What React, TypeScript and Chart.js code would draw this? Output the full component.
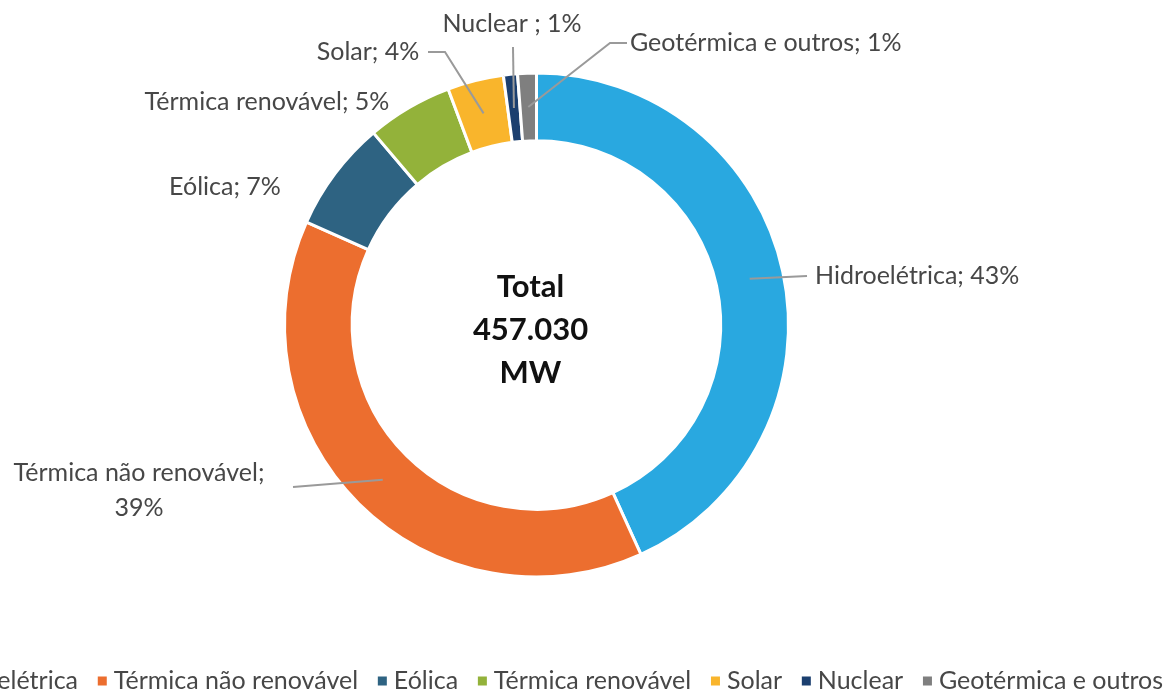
import React, { useEffect, useRef } from "react";
import { Chart, registerables } from "chart.js";

Chart.register(...registerables);

// ---------- data ----------
const categories = [
  "Hidroelétrica",
  "Térmica não renovável",
  "Eólica",
  "Térmica renovável",
  "Solar",
  "Nuclear",
  "Geotérmica e outros",
];
const shares = [43.2, 38.5, 7.1, 5.5, 3.6, 0.9, 1.2];
const percentLabels = ["43%", "39%", "7%", "5%", "4%", "1%", "1%"];
const labelSeparators = ["; ", ";\n", "; ", "; ", "; ", " ; ", "; "];
const totalLines = ["Total", "457.030", "MW"];

// ---------- styles ----------
const colors = ["#29A8E0", "#EC6E2F", "#2E6382", "#93B23A", "#F9B52C", "#1B3F6F", "#7F7F7F"];
const FONT = "Lato, 'Open Sans', sans-serif";
const LABEL_SIZE = 25;
const TEXT_COLOR = "#474747";
const LINE_COLOR = "#9a9a9a";

type LabelLayout = {
  x: number;
  y: number;
  align: CanvasTextAlign;
  path: [number, number][]; // leader line points after the arc anchor
};
const labelLayout: LabelLayout[] = [
  { x: 815, y: 276, align: "left", path: [[807, 276]] },
  { x: 139, y: 473, align: "center", path: [[293, 487]] },
  { x: 225, y: 187, align: "center", path: [] },
  { x: 267, y: 102, align: "center", path: [] },
  { x: 368, y: 52, align: "center", path: [[445, 52], [428, 52]] },
  { x: 512, y: 24, align: "center", path: [[513, 47]] },
  { x: 630, y: 43, align: "left", path: [[610, 43], [627, 43]] },
];

const overlayPlugin = {
  id: "overlay",
  afterDraw(chart: any) {
    const ctx: CanvasRenderingContext2D = chart.ctx;
    const meta = chart.getDatasetMeta(0);
    const area = chart.chartArea;
    const cx = (area.left + area.right) / 2;
    const cy = (area.top + area.bottom) / 2;

    // leader lines
    ctx.save();
    ctx.strokeStyle = LINE_COLOR;
    ctx.lineWidth = 2;
    meta.data.forEach((arc: any, i: number) => {
      const lay = labelLayout[i];
      if (!lay.path.length) return;
      const p = arc.getProps(["startAngle", "endAngle", "innerRadius", "outerRadius", "x", "y"], true);
      const mid = (p.startAngle + p.endAngle) / 2;
      const r = (p.innerRadius + p.outerRadius) / 2;
      ctx.beginPath();
      ctx.moveTo(p.x + Math.cos(mid) * r, p.y + Math.sin(mid) * r);
      lay.path.forEach(([x, y]) => ctx.lineTo(x, y));
      ctx.stroke();
    });
    ctx.restore();

    // data labels
    ctx.save();
    ctx.fillStyle = TEXT_COLOR;
    ctx.font = `${LABEL_SIZE}px ${FONT}`;
    ctx.textBaseline = "middle";
    categories.forEach((c, i) => {
      const lay = labelLayout[i];
      const txt = c + labelSeparators[i] + percentLabels[i];
      const lines = txt.split("\n");
      ctx.textAlign = lay.align;
      lines.forEach((ln, k) => ctx.fillText(ln, lay.x, lay.y + k * 35));
    });
    ctx.restore();

    // center total
    ctx.save();
    ctx.fillStyle = "#111111";
    ctx.font = `bold 31px ${FONT}`;
    ctx.textAlign = "center";
    ctx.textBaseline = "middle";
    totalLines.forEach((t, k) => ctx.fillText(t, cx - 6, cy - 38 + k * 43));
    ctx.restore();

    // legend (custom, overflowing canvas as in reference)
    ctx.save();
    ctx.font = `${LABEL_SIZE}px ${FONT}`;
    ctx.textBaseline = "middle";
    ctx.textAlign = "left";
    const legendY = 681;
    const sq = 9;
    const pad = 7;
    const firstEnd = 78;
    const lastEnd = 1163;
    const widths = categories.map((c) => ctx.measureText(c).width);
    const restText = widths.slice(1).reduce((a, b) => a + b, 0);
    const gap = (lastEnd - firstEnd - restText - (categories.length - 1) * (sq + pad)) / (categories.length - 1);
    let x = firstEnd - widths[0] - pad - sq;
    categories.forEach((c, i) => {
      ctx.fillStyle = colors[i];
      ctx.fillRect(x, legendY - sq / 2, sq, sq);
      ctx.fillStyle = TEXT_COLOR;
      ctx.fillText(c, x + sq + pad, legendY);
      x += sq + pad + widths[i] + gap;
    });
    ctx.restore();
  },
};

export default function App() {
  const ref = useRef<HTMLCanvasElement | null>(null);
  useEffect(() => {
    if (!ref.current) return;
    const chart = new Chart(ref.current, {
      type: "doughnut",
      data: {
        labels: categories,
        datasets: [
          {
            data: shares,
            backgroundColor: colors,
            borderColor: "#ffffff",
            borderWidth: 3,
          },
        ],
      },
      options: {
        responsive: false,
        animation: false,
        radius: 252,
        cutout: 189,
        rotation: 0,
        layout: { padding: { left: 276.5, right: 377.5, top: 65, bottom: 109 } },
        plugins: {
          legend: { display: false },
          tooltip: { enabled: false },
        },
      } as any,
      plugins: [overlayPlugin],
    });
    return () => chart.destroy();
  }, []);
  return (
    <div style={{ position: "fixed", left: 0, top: 0, width: 1174, height: 694, background: "#fff" }}>
      <canvas ref={ref} width={1174} height={694} style={{ display: "block" }} />
    </div>
  );
}
